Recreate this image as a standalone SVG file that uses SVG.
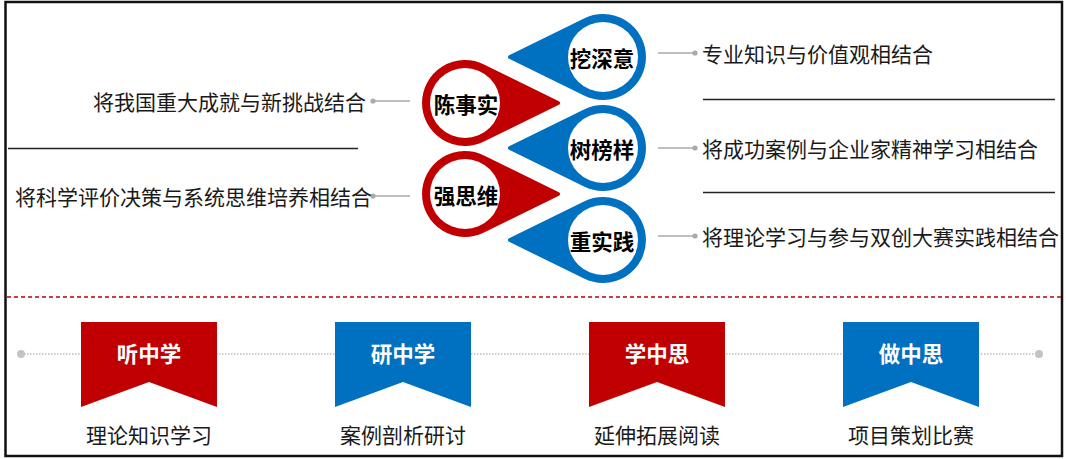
<svg xmlns="http://www.w3.org/2000/svg" width="1066" height="459" viewBox="0 0 1066 459">
<style>
.txt{font-family:"Noto Sans CJK SC","Noto Sans",sans-serif;font-size:21px;fill:#1a1a1a;dominant-baseline:central}
.bold{font-family:"Noto Sans CJK SC","Noto Sans",sans-serif;font-size:21.5px;font-weight:700;dominant-baseline:central;text-anchor:middle}
.red{fill:#C00000;stroke:#C00000;stroke-width:4;stroke-linejoin:round}
.blue{fill:#0070C0;stroke:#0070C0;stroke-width:4;stroke-linejoin:round}
.hole{fill:#fff}
.lead{stroke:#aaaaaa;stroke-width:1.3;fill:none}
.dot{fill:#aaaaaa}
.sep{stroke:#222;stroke-width:1.3}
</style>
<defs>
<path id="drop" d="M 18.1 -36.8 L 93 0 L 18.1 36.8 A 41 41 0 1 1 18.1 -36.8 Z"/>
<path id="banner" d="M -68 0 H 68 V 85 L 0 60 L -68 85 Z"/>
</defs>
<rect x="5.5" y="2" width="1056.5" height="454" fill="#fff" stroke="#111" stroke-width="2.5"/>

<g id="connectors">
<line class="lead" x1="373" y1="101" x2="410" y2="101"/>
<circle class="dot" cx="373" cy="101" r="2.6"/>
<line class="lead" x1="373" y1="196" x2="410" y2="196"/>
<circle class="dot" cx="373" cy="196" r="2.6"/>
<line class="lead" x1="658" y1="53" x2="695" y2="53"/>
<circle class="dot" cx="695" cy="53" r="2.6"/>
<line class="lead" x1="658" y1="148" x2="695" y2="148"/>
<circle class="dot" cx="695" cy="148" r="2.6"/>
<line class="lead" x1="658" y1="236" x2="695" y2="236"/>
<circle class="dot" cx="695" cy="236" r="2.6"/>
<line class="sep" x1="8" y1="148.5" x2="358" y2="148.5"/>
<line class="sep" x1="703" y1="99.5" x2="1055" y2="99.5"/>
<line class="sep" x1="703" y1="192.5" x2="1055" y2="192.5"/>
<line x1="7" y1="297" x2="1061" y2="297" stroke="#C00000" stroke-width="1.5" stroke-dasharray="4 3"/>
<line x1="21" y1="354" x2="1039" y2="354" stroke="#bdbdbd" stroke-width="1.5" stroke-dasharray="1.5 1.5"/>
<circle cx="21" cy="354" r="4" fill="#c4c4c4"/>
<circle cx="1039" cy="354" r="4" fill="#c4c4c4"/>
</g>

<g id="chen">
<use href="#drop" class="red" transform="translate(465,103)"/>
<circle class="hole" cx="465" cy="103" r="35"/>
<text class="bold" x="466" y="103" fill="#000">陈事实</text>
</g>
<g id="qiang">
<use href="#drop" class="red" transform="translate(465,194)"/>
<circle class="hole" cx="465" cy="194" r="35"/>
<text class="bold" x="466" y="194" fill="#000">强思维</text>
</g>
<g id="wa">
<use href="#drop" class="blue" transform="translate(603,57) scale(-1,1)"/>
<circle class="hole" cx="603" cy="57" r="35"/>
<text class="bold" x="602" y="57" fill="#000">挖深意</text>
</g>
<g id="shu">
<use href="#drop" class="blue" transform="translate(603,148) scale(-1,1)"/>
<circle class="hole" cx="603" cy="148" r="35"/>
<text class="bold" x="602" y="148" fill="#000">树榜样</text>
</g>
<g id="zhong">
<use href="#drop" class="blue" transform="translate(603,240) scale(-1,1)"/>
<circle class="hole" cx="603" cy="240" r="35"/>
<text class="bold" x="602" y="240" fill="#000">重实践</text>
</g>

<g id="left-texts">
<text class="txt" x="366" y="101" text-anchor="end">将我国重大成就与新挑战结合</text>
<text class="txt" x="372" y="196" text-anchor="end">将科学评价决策与系统思维培养相结合</text>
</g>
<g id="right-texts">
<text class="txt" x="702" y="53">专业知识与价值观相结合</text>
<text class="txt" x="702" y="148">将成功案例与企业家精神学习相结合</text>
<text class="txt" x="702" y="236">将理论学习与参与双创大赛实践相结合</text>
</g>

<g id="ting">
<use href="#banner" transform="translate(149,322)" fill="#C00000"/>
<text class="bold" x="149" y="352" fill="#fff">听中学</text>
<text class="txt" x="149" y="434" text-anchor="middle">理论知识学习</text>
</g>
<g id="yan">
<use href="#banner" transform="translate(403,322)" fill="#0070C0"/>
<text class="bold" x="403" y="352" fill="#fff">研中学</text>
<text class="txt" x="403" y="434" text-anchor="middle">案例剖析研讨</text>
</g>
<g id="xue">
<use href="#banner" transform="translate(657,322)" fill="#C00000"/>
<text class="bold" x="657" y="352" fill="#fff">学中思</text>
<text class="txt" x="657" y="434" text-anchor="middle">延伸拓展阅读</text>
</g>
<g id="zuo">
<use href="#banner" transform="translate(911,322)" fill="#0070C0"/>
<text class="bold" x="911" y="352" fill="#fff">做中思</text>
<text class="txt" x="911" y="434" text-anchor="middle">项目策划比赛</text>
</g>
</svg>
